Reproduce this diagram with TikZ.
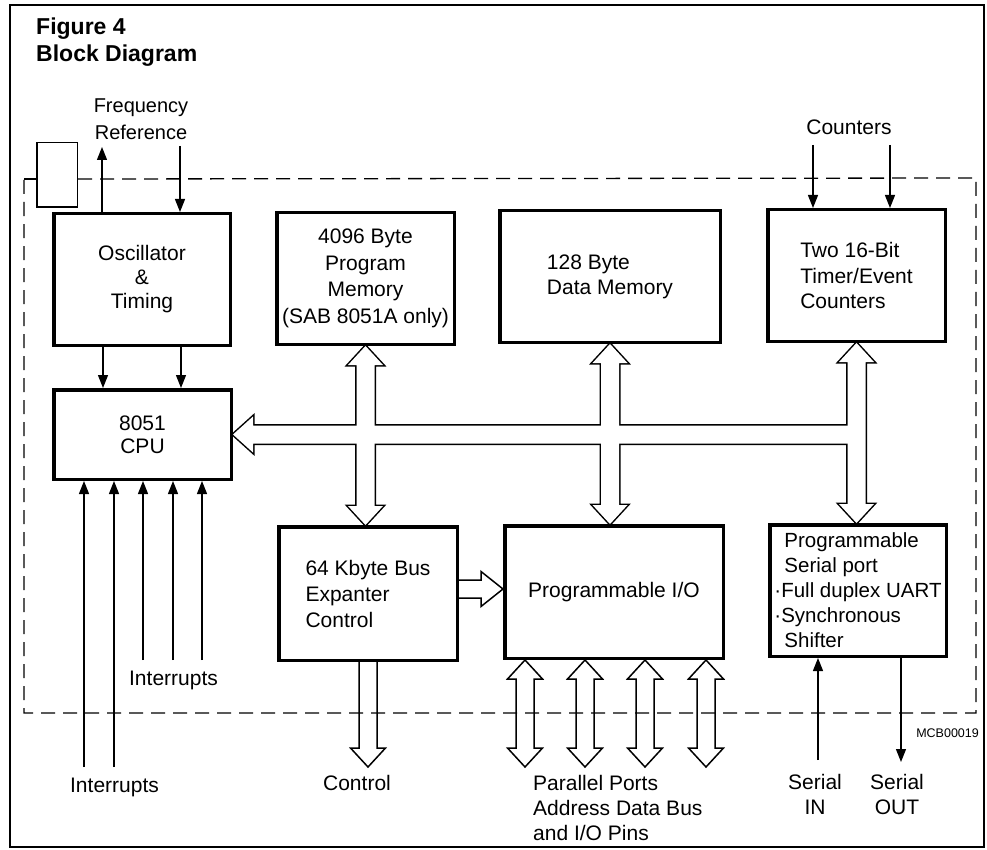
\documentclass[tikz,border=0pt]{standalone}
\usepackage{fontspec}
\setmainfont{Liberation Sans}
\usetikzlibrary{arrows.meta,calc,backgrounds}
\newcommand{\mydblv}[3]{\path[#1] let \p1=#2, \p2=#3 in
 (\x1,\y1) -- (\x1+17.5pt,\y1-19pt) -- (\x1+9pt,\y1-19pt) -- (\x1+9pt,\y2+19pt) -- (\x1+17.5pt,\y2+19pt) -- (\x1,\y2) -- (\x1-17.5pt,\y2+19pt) -- (\x1-9pt,\y2+19pt) -- (\x1-9pt,\y1-19pt) -- (\x1-17.5pt,\y1-19pt) -- cycle;}
\newcommand{\mybush}[3]{\path[#1] let \p1=#2, \p2=#3 in
 (\x1,\y1) -- (\x1+20pt,\y1+18pt) -- (\x1+20pt,\y1+9pt) -- (\x2,\y1+9pt) -- (\x2,\y1-9pt) -- (\x1+20pt,\y1-9pt) -- (\x1+20pt,\y1-18pt) -- cycle;}
\newcommand{\mydownarr}[3]{\path[#1] let \p1=#2, \p2=#3 in
 (\x1-9pt,\y1) -- (\x1-9pt,\y2+19pt) -- (\x1-17.5pt,\y2+19pt) -- (\x1,\y2) -- (\x1+17.5pt,\y2+19pt) -- (\x1+9pt,\y2+19pt) -- (\x1+9pt,\y1);}
\newcommand{\myrightarr}[3]{\path[#1] let \p1=#2, \p2=#3 in
 (\x1,\y1+9pt) -- (\x2-22pt,\y1+9pt) -- (\x2-22pt,\y1+17.5pt) -- (\x2,\y1) -- (\x2-22pt,\y1-17.5pt) -- (\x2-22pt,\y1-9pt) -- (\x1,\y1-9pt);}
\tikzset{
 blk/.style={draw, line width=3.5pt, inner sep=0pt, align=center, font=\fontsize{21}{25}\selectfont},
 sig/.style={line width=1.3pt, -{Triangle[length=13pt,width=10pt]}},
 hol/.style={line width=1.5pt, line join=miter},
 lbl/.style={inner sep=0pt, font=\fontsize{21}{25}\selectfont},
 dashb/.style={line width=1.3pt, dash pattern=on 14pt off 8pt},
}
\begin{document}
\begin{tikzpicture}[x=1pt,y=-1pt]
\useasboundingbox (0,0) rectangle (987,850);
\draw[line width=1.5pt] (10,5) rectangle (984,847);

% title
\node[lbl, anchor=base west, font=\fontsize{23}{27}\selectfont\bfseries] (t1) at (36,35) {Figure 4};
\node[lbl, anchor=base west, font=\fontsize{23}{27}\selectfont\bfseries] (t2) at (36,62) {Block Diagram};

% blocks
\node[blk, minimum width=176.5pt, minimum height=131.5pt, font=\fontsize{21}{24}\selectfont] (osc) at (142,279.5) {Oscillator\\\&\\Timing};
\node[blk, minimum width=177.5pt, minimum height=131.5pt, font=\fontsize{21}{26.5}\selectfont] (pm) at (365.5,278.5) {4096 Byte\\Program\\Memory\\(SAB 8051A only)};
\node[blk, align=left, minimum width=220.5pt, minimum height=131.5pt] (dm) at (610,276.5) {128 Byte\\Data Memory};
\node[blk, align=left, minimum width=177.5pt, minimum height=131.5pt, font=\fontsize{21}{25.5}\selectfont] (tim) at (856.5,275.5) {Two 16-Bit\\Timer/Event\\Counters};
\node[blk, minimum width=177.5pt, minimum height=89.5pt, font=\fontsize{21}{23}\selectfont] (cpu) at (142.5,434.5) {8051\\CPU};
\node[blk, align=left, minimum width=178.5pt, minimum height=133.5pt, font=\fontsize{21}{26}\selectfont] (exp) at (368,593.5) {64 Kbyte Bus\\Expanter\\Control};
\node[blk, minimum width=218.5pt, minimum height=132.5pt] (pio) at (614,592) {Programmable I/O};
\node[blk, align=left, minimum width=176.5pt, minimum height=131.5pt, font=\fontsize{20.5}{25}\selectfont] (ser) at (858,590.5) {\hspace{10pt}Programmable\\\hspace{10pt}Serial port\\·Full duplex UART\\·Synchronous\\\hspace{10pt}Shifter};
\node[draw, line width=1.5pt, inner sep=0pt, minimum width=40.5pt, minimum height=64.5pt] (xtal) at (57,175) {};

% coordinates
\coordinate (dTL) at (24,179);
\coordinate (dTR) at (976,178);
\coordinate (dBR) at (976,713);
\coordinate (dBL) at (24,713);
\coordinate (fu) at (102,147);
\coordinate (fd) at (180,146);
\coordinate (oc1) at (103,0);
\coordinate (oc2) at (181,0);
\coordinate (cn1) at (813,145);
\coordinate (cn2) at (890,145);
\coordinate (i1) at (84,767);
\coordinate (i2) at (114,767);
\coordinate (i3) at (143,660);
\coordinate (i4) at (173,660);
\coordinate (i5) at (202,660);
\coordinate (sin) at (818,760);
\coordinate (sout) at (901,762);
\coordinate (ctl) at (368,767);
\coordinate (ea) at (0,589);
\coordinate (p1) at (525,767);
\coordinate (p2) at (585,767);
\coordinate (p3) at (645,767);
\coordinate (p4) at (706,767);

\begin{scope}[on background layer]
 % boundary
 \draw[line width=1.3pt] (dTL) -- (dTL -| xtal.west);
 \draw[dashb] (dTL -| xtal.east) -- (dTR) -- (dBR) -- (dBL) -- (dTL);
 % internal bus (union outline)
 \mybush{draw,line width=3pt}{(cpu.east)}{(tim.south)}
 \mydblv{draw,line width=3pt}{(pm.south)}{(pm.south |- exp.north)}
 \mydblv{draw,line width=3pt}{(dm.south)}{(dm.south |- pio.north)}
 \mydblv{draw,line width=3pt}{(tim.south)}{(tim.south |- ser.north)}
 \mybush{fill=white}{(cpu.east)}{(tim.south)}
 \mydblv{fill=white}{(pm.south)}{(pm.south |- exp.north)}
 \mydblv{fill=white}{(dm.south)}{(dm.south |- pio.north)}
 \mydblv{fill=white}{(tim.south)}{(tim.south |- ser.north)}
\end{scope}

% hollow arrows
\myrightarr{draw,hol}{(exp.east |- ea)}{(pio.west |- ea)}
\mydownarr{draw,hol}{(exp.south -| ctl)}{(ctl)}
\mydblv{draw,hol}{(pio.south -| p1)}{(p1)}
\mydblv{draw,hol}{(pio.south -| p2)}{(p2)}
\mydblv{draw,hol}{(pio.south -| p3)}{(p3)}
\mydblv{draw,hol}{(pio.south -| p4)}{(p4)}

% signal arrows
\draw[sig] (osc.north -| fu) -- (fu);
\draw[sig] (fd) -- (osc.north -| fd);
\draw[sig] (osc.south -| oc1) -- (cpu.north -| oc1);
\draw[sig] (osc.south -| oc2) -- (cpu.north -| oc2);
\draw[sig] (cn1) -- (tim.north -| cn1);
\draw[sig] (cn2) -- (tim.north -| cn2);
\draw[sig] (i1) -- (cpu.south -| i1);
\draw[sig] (i2) -- (cpu.south -| i2);
\draw[sig] (i3) -- (cpu.south -| i3);
\draw[sig] (i4) -- (cpu.south -| i4);
\draw[sig] (i5) -- (cpu.south -| i5);
\draw[sig] (sin) -- (ser.south -| sin);
\draw[sig] (ser.south -| sout) -- (sout);

% labels
\node[lbl, align=center, font=\fontsize{20}{27}\selectfont] (freq) at (141,119.5) {Frequency\\Reference};
\node[lbl, anchor=base] (cnt) at (849,135) {Counters};
\node[lbl, anchor=base] (int1) at (173.5,685) {Interrupts};
\node[lbl, anchor=base] (int2) at (114.5,792) {Interrupts};
\node[lbl, anchor=base] (ctrl) at (357,790) {Control};
\node[lbl, align=left, anchor=north west] (par) at (533,775.5) {Parallel Ports\\Address Data Bus\\and I/O Pins};
\node[lbl, align=center, anchor=north] (sinl) at (815,774) {Serial\\IN};
\node[lbl, align=center, anchor=north] (soutl) at (897,774) {Serial\\OUT};
\node[lbl, anchor=base east, font=\fontsize{12.5}{14}\selectfont] (mcb) at (979,737) {MCB00019};
\end{tikzpicture}
\end{document}
